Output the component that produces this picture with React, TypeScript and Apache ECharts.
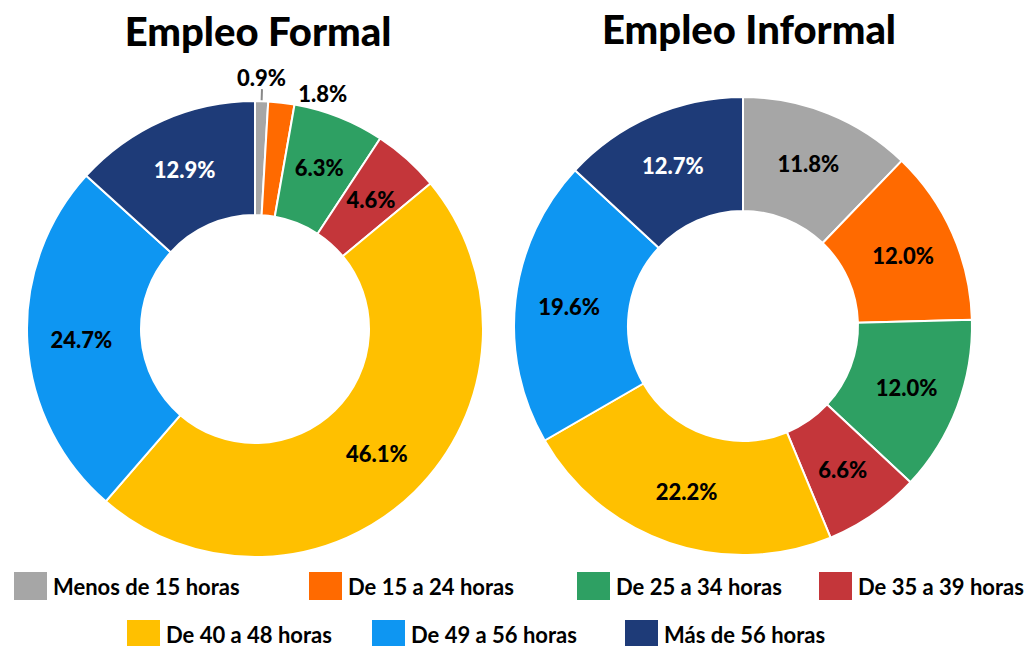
import React, { useEffect, useRef } from "react";
import * as echarts from "echarts";

const categories = [
  "Menos de 15 horas",
  "De 15 a 24 horas",
  "De 25 a 34 horas",
  "De 35 a 39 horas",
  "De 40 a 48 horas",
  "De 49 a 56 horas",
  "Más de 56 horas",
];
const formalValues = [0.9, 1.8, 6.3, 4.6, 46.1, 24.7, 12.9];
const informalValues = [11.8, 12.0, 12.0, 6.6, 22.2, 19.6, 12.7];
const titles = ["Empleo Formal", "Empleo Informal"];

const colors = ["#A6A6A6", "#FF6A00", "#2EA063", "#C4363A", "#FFC000", "#0E96F2", "#1E3B78"];
const labelColors = ["#000", "#000", "#000", "#000", "#000", "#000", "#fff"];

const FONT = "Lato, 'Open Sans', sans-serif";

export default function App() {
  const ref = useRef<HTMLDivElement>(null);
  useEffect(() => {
    const chart = echarts.init(ref.current!, null, { renderer: "svg" });

    const makeData = (vals: number[], small: boolean) =>
      vals.map((v, i) => {
        const d: any = {
          name: categories[i],
          value: v,
          label: { color: labelColors[i] },
        };
        if (small && i === 0) {
          d.label = { position: "outside", color: "#000", offset: [-30, -12] };
          d.labelLine = { show: true, length: 12, length2: 0, lineStyle: { color: "#888", width: 2 } };
        }
        if (small && i === 1) {
          d.label = { position: "outside", color: "#000", offset: [-20, 6] };
          d.labelLine = { show: false };
        }
        return d;
      });

    const baseSeries = (center: number[], radius: number[], vals: number[], small: boolean) => ({
      type: "pie",
      center,
      radius,
      startAngle: 90,
      clockwise: true,
      avoidLabelOverlap: false,
      color: colors,
      itemStyle: { borderColor: "#fff", borderWidth: 2 },
      label: {
        show: true,
        position: "inside",
        formatter: (p: any) => p.value.toFixed(1) + "%",
        fontFamily: FONT,
        fontWeight: "900",
        fontSize: 22,
      },
      labelLine: { show: false },
      emphasis: { disabled: true },
      data: makeData(vals, small),
    });

    const legendPos = [
      [12, 570],
      [307, 570],
      [575, 570],
      [817, 570],
      [125, 618],
      [370, 618],
      [623, 618],
    ];

    chart.setOption({
      animation: false,
      color: colors,
      title: [
        {
          text: titles[0],
          left: 253,
          top: 6,
          textAlign: "center",
          textStyle: { fontFamily: FONT, fontWeight: "900", fontSize: 40, color: "#000" },
        },
        {
          text: titles[1],
          left: 744,
          top: 4,
          textAlign: "center",
          textStyle: { fontFamily: FONT, fontWeight: "900", fontSize: 40, color: "#000" },
        },
      ],
      legend: categories.map((c, i) => ({
        data: [c],
        left: legendPos[i][0],
        top: legendPos[i][1],
        itemWidth: 35,
        itemHeight: 30,
        itemGap: 0,
        padding: 0,
        icon: "rect",
        selectedMode: false,
        textStyle: { fontFamily: FONT, fontWeight: "bold", fontSize: 22, color: "#000", padding: [0, 0, 0, 0] },
      })),
      series: [
        baseSeries([255, 329], [114, 228], formalValues, true),
        baseSeries([743, 326], [115, 229], informalValues, false),
      ],
    });
    return () => chart.dispose();
  }, []);
  return (
    <div
      ref={ref}
      style={{ position: "fixed", left: 0, top: 0, width: 1029, height: 646, background: "#fff" }}
    />
  );
}
